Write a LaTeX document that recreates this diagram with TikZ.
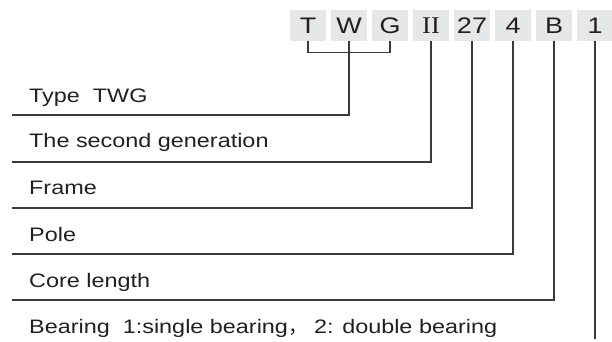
\documentclass[tikz,border=0pt]{standalone}
\usepackage{fontspec}
\setmainfont{Liberation Sans}[FakeStretch=1.2]
\newfontfamily\romanfont{Liberation Serif}[FakeStretch=1.1]
\newfontfamily\cjkfont{Noto Sans CJK SC}
\usepackage{xcolor}
\usepackage{tikz}
\usetikzlibrary{positioning}

\definecolor{boxgray}{HTML}{E6E7E8}
\definecolor{linegray}{HTML}{3A3A3A}
\definecolor{inkgray}{HTML}{231F20}

\begin{document}
\begin{tikzpicture}[x=1pt, y=1pt, node distance=4.6pt,
    code/.style={fill=boxgray, text=inkgray, minimum width=36pt, minimum height=30pt, inner sep=0pt, font=\fontsize{22.5}{24}\selectfont},
    item/.style={anchor=base west, text=inkgray, inner sep=0pt, font=\fontsize{19.5}{22}\selectfont},
    lead/.style={draw=linegray, line width=1.2pt}]
            \useasboundingbox (0,0) rectangle (612,341);
            % code letters
            \node[code] (cT) at (308,315.5) {T};
            \node[code] (cW) [right = of cT] {W};
            \node[code] (cG) [right = of cW] {G};
            \node[code, font=\romanfont\fontsize{24}{26}\selectfont] (cII) [right = of cG] {II};
            \node[code] (c27) [right = of cII] {27};
            \node[code] (c4) [right = of c27] {4};
            \node[code] (cB) [right = of c4] {B};
            \node[code] (c1) [right = of cB] {1};

            % meanings
            \node[item] (lType) at (29,239) {Type\ \ TWG};
            \node[item] (lGen) at (29,194) {The second generation};
            \node[item] (lFrame) at (29,147) {Frame};
            \node[item] (lPole) at (29,100) {Pole};
            \node[item] (lCore) at (29,54) {Core length};
            \node[item] (lBearing) at (29,8) {Bearing\ \ 1:single bearing{\cjkfont ，}\ 2: double bearing};

            \coordinate (r1) at (12,226);
            \coordinate (r2) at (12,179);
            \coordinate (r3) at (12,133);
            \coordinate (r4) at (12,87);
            \coordinate (r5) at (12,41);
            \coordinate (tail) at (592,2);

            \draw[lead] (cT.south) -- ++(0,-11.5) -| (cG.south);
            \draw[lead] (cW.south) |- (r1);
            \draw[lead] (cII.south) |- (r2);
            \draw[lead] (c27.south) |- (r3);
            \draw[lead] (c4.south) |- (r4);
            \draw[lead] (cB.south) |- (r5);
            \draw[lead] (c1.south) -- (c1.south |- tail);
        \end{tikzpicture}
\end{document}
